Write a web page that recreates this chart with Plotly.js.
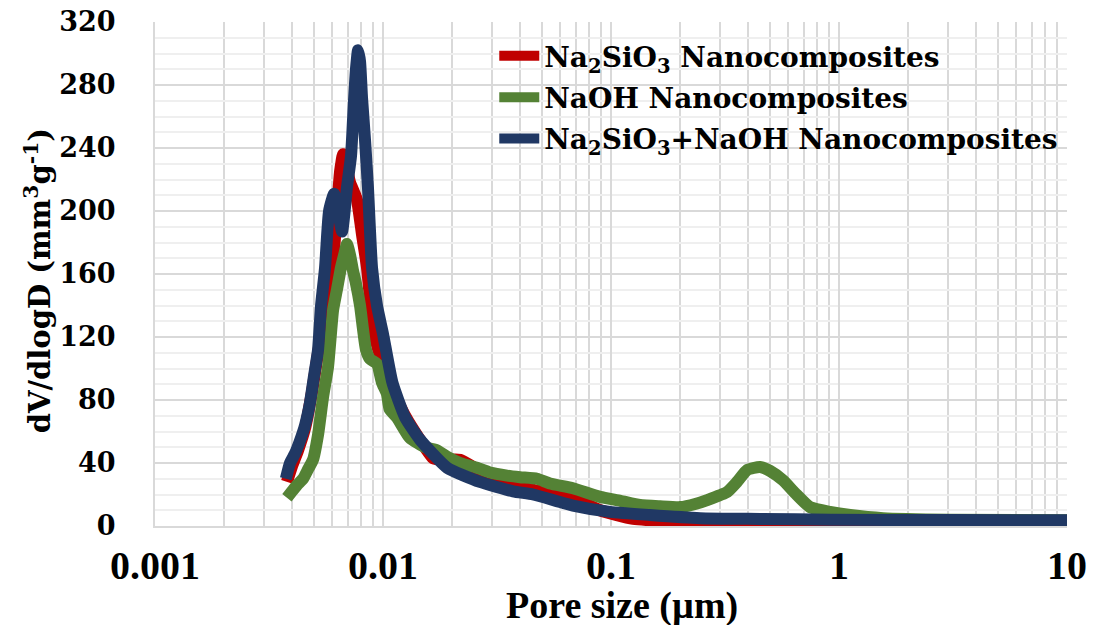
<!DOCTYPE html>
<html>
<head>
<meta charset="utf-8">
<script src="https://cdn.plot.ly/plotly-3.0.1.min.js"></script>
<style>
  html, body { margin: 0; padding: 0; background: #ffffff; }
  #chart { width: 1093px; height: 625px; }
</style>
</head>
<body>
<div id="chart"></div>
<script>
// Pore size distribution (dV/dlogD vs pore diameter, µm)

const seriesNames = [
  'Na<sub>2</sub>SiO<sub>3</sub> Nanocomposites',
  'NaOH Nanocomposites',
  'Na<sub>2</sub>SiO<sub>3</sub>+NaOH Nanocomposites'
];

// Na2SiO3 nanocomposites
const poreNa2SiO3 = [0.00379, 0.00399, 0.00424, 0.00455, 0.00488, 0.00519, 0.00546, 0.00574, 0.00604, 0.00628,
  0.00648, 0.00668, 0.00688, 0.00717, 0.00746, 0.00769, 0.00809, 0.00851, 0.00904, 0.00970,
  0.0107, 0.0125, 0.0145, 0.0166, 0.0187, 0.0218, 0.0266, 0.0326, 0.0455, 0.0597,
  0.0681, 0.0895, 0.125, 0.246, 0.675, 10];
const dvNa2SiO3 = [28, 38, 48, 62, 85, 110, 130, 150, 168, 200,
  225, 236, 230, 218, 212, 207, 185, 164, 126, 108,
  90, 70, 55, 43, 42, 42, 35, 30, 23, 20,
  18, 10, 4.5, 2.5, 2, 1.8];

// NaOH nanocomposites
const poreNaOH = [0.00379, 0.00399, 0.00420, 0.00446, 0.00469, 0.00493, 0.00519, 0.00546, 0.00574, 0.00604,
  0.00628, 0.00654, 0.00675, 0.00695, 0.00717, 0.00739, 0.00761, 0.00793, 0.00817, 0.00842,
  0.00877, 0.00941, 0.00990, 0.0104, 0.0107, 0.0115, 0.0131, 0.0153, 0.0173, 0.0191,
  0.0218, 0.0258, 0.0295, 0.0350, 0.0399, 0.0474, 0.0540, 0.0681, 0.0895, 0.110,
  0.134, 0.164, 0.201, 0.234, 0.264, 0.323, 0.357, 0.395, 0.450, 0.498,
  0.568, 0.641, 0.746, 0.913, 1.12, 1.56, 3.07, 10];
const dvNaOH = [18, 22, 26, 30, 36, 42, 58, 82, 101, 137,
  150, 164, 172, 179, 172, 162, 154, 140, 125, 112,
  106, 103, 91, 84, 74, 69, 56, 50, 48, 44,
  40, 37, 34, 32, 31, 30, 27, 24, 18.5, 16,
  13.3, 12.5, 12, 14, 16.5, 21.6, 28, 35.5, 37.5, 35,
  29, 21, 12, 9, 7, 5, 4, 3.6];

// Na2SiO3 + NaOH nanocomposites
const poreMixed = [0.00375, 0.00391, 0.00411, 0.00432, 0.00455, 0.00478, 0.00498, 0.00519, 0.00535, 0.00557,
  0.00580, 0.00610, 0.00635, 0.00661, 0.00695, 0.00724, 0.00746, 0.00761, 0.00777, 0.00793,
  0.00809, 0.00834, 0.00859, 0.00895, 0.00941, 0.0100, 0.0110, 0.0125, 0.0145, 0.0191,
  0.0266, 0.0372, 0.0455, 0.0681, 0.0990, 0.148, 0.246, 0.450, 0.913, 3.07, 10];
const dvMixed = [30, 40, 46, 54, 64, 78, 95, 112, 140, 164,
  200, 211, 200, 187, 215, 235, 270, 290, 302, 295,
  272, 245, 215, 164, 140, 122, 91, 69, 55, 37,
  28, 22, 20, 13, 9, 7, 5, 4.5, 4, 3.8, 3.6];

const seriesColors = ['#C00000', '#548235', '#203864'];

const xTickVals = [0.001, 0.01, 0.1, 1, 10];
const xTickText = ['0.001', '0.01', '0.1', '1', '10'];

const xTitle = 'Pore size (µm)';
const yTitle = 'dV/dlogD (mm<sup>3</sup>g<sup>-1</sup>)';

// minor gridlines at 2..9 within each decade
const xMinorVals = [];
for (let e = -3; e < 1; e++) {
  for (let d = 2; d <= 9; d++) xMinorVals.push(d * Math.pow(10, e));
}

const pores = [poreNa2SiO3, poreNaOH, poreMixed];
const values = [dvNa2SiO3, dvNaOH, dvMixed];

const traces = pores.map((px, i) => ({
  type: 'scatter',
  mode: 'lines',
  x: px,
  y: values[i],
  name: seriesNames[i],
  legendgroup: 'g' + i,
  line: { color: seriesColors[i], width: 12, shape: 'spline', smoothing: 0.5 },
  hoverinfo: 'skip'
}));

const layout = {
  width: 1093,
  height: 625,
  margin: { l: 155, r: 26, t: 22, b: 99 },
  paper_bgcolor: '#ffffff',
  plot_bgcolor: '#ffffff',
  showlegend: true,
  legend: {
    x: 0.372, y: 0.982, xanchor: 'left', yanchor: 'top',
    bgcolor: 'rgba(0,0,0,0)',
    traceorder: 'grouped',
    tracegroupgap: 2,
    font: { family: 'DejaVu Serif', size: 28, color: '#000000', weight: 'bold' },
    itemwidth: 40
  },
  xaxis: {
    type: 'log',
    range: [-3, 1],
    tickmode: 'array',
    tickvals: xTickVals,
    ticktext: xTickText,
    ticks: '',
    showgrid: true,
    gridcolor: '#d9d9d9',
    gridwidth: 2,
    minor: { tickmode: 'array', tickvals: xMinorVals, showgrid: true, gridcolor: '#d9d9d9', gridwidth: 2, ticks: '' },
    showline: true,
    linecolor: '#d9d9d9',
    linewidth: 2,
    zeroline: false,
    ticklabelstandoff: 3,
    tickfont: { family: 'Liberation Serif', size: 40, color: '#000000', weight: 'bold' }
  },
  yaxis: {
    range: [0, 320],
    tickmode: 'linear',
    tick0: 0,
    dtick: 40,
    ticks: '',
    showgrid: true,
    gridcolor: '#d9d9d9',
    gridwidth: 2,
    minor: { dtick: 10, showgrid: true, gridcolor: '#efefef', gridwidth: 2, ticks: '' },
    showline: true,
    linecolor: '#d9d9d9',
    linewidth: 2,
    zeroline: false,
    ticklabelstandoff: 32,
    tickfont: { family: 'DejaVu Serif', size: 27, color: '#000000', weight: 'bold' }
  },
  annotations: [
    {
      text: xTitle, xref: 'paper', yref: 'paper',
      x: 0.512, y: -0.158, xanchor: 'center', yanchor: 'middle', showarrow: false,
      font: { family: 'Liberation Serif', size: 38, color: '#000000', weight: 'bold' }
    },
    {
      text: yTitle, xref: 'paper', yref: 'paper', textangle: -90,
      x: -0.128, y: 0.486, xanchor: 'center', yanchor: 'middle', showarrow: false,
      font: { family: 'DejaVu Serif', size: 29, color: '#000000', weight: 'bold' }
    }
  ]
};

Plotly.newPlot('chart', traces, layout, { displayModeBar: false, staticPlot: true });
</script>
</body>
</html>
